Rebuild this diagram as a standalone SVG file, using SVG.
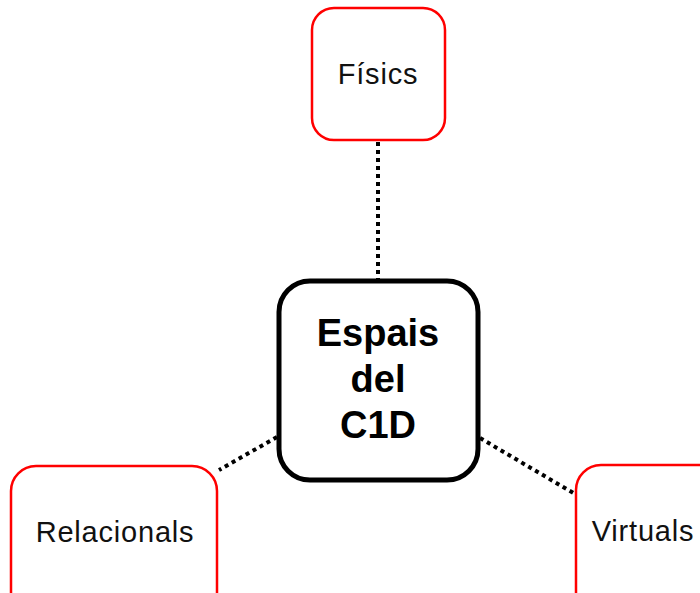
<svg xmlns="http://www.w3.org/2000/svg" width="700" height="593" viewBox="0 0 700 593">
<style>
.leaf{fill:#fff;stroke:#ff0000;stroke-width:2.5}
.core{fill:#fff;stroke:#000;stroke-width:5}
.conn{stroke:#000;stroke-width:4;stroke-dasharray:4 4;fill:none}
.lt{font-family:"Liberation Sans",Arial,sans-serif;font-size:29px;letter-spacing:0.8px;fill:#111;text-anchor:middle}
.ct{font-family:"Liberation Sans",Arial,sans-serif;font-size:38px;font-weight:bold;fill:#000;text-anchor:middle}
</style>
<rect width="700" height="593" fill="#fff"/>
<g id="connectors">
<line class="conn" x1="378" y1="142" x2="378" y2="279"/>
<line class="conn" x1="277" y1="437" x2="219" y2="470"/>
<line class="conn" x1="480" y1="438" x2="575" y2="494"/>
</g>
<g id="fisics">
<rect class="leaf" x="312" y="8" width="133" height="132" rx="22"/>
<text class="lt" x="378" y="84">Físics</text>
</g>
<g id="relacionals">
<rect class="leaf" x="11" y="466" width="206" height="160" rx="25"/>
<text class="lt" x="115" y="542">Relacionals</text>
</g>
<g id="virtuals">
<rect class="leaf" x="576" y="465" width="206" height="160" rx="25"/>
<text class="lt" x="643" y="541">Virtuals</text>
</g>
<g id="espais">
<rect class="core" x="279" y="281" width="199" height="199" rx="31"/>
<text class="ct" x="378" y="346">Espais</text>
<text class="ct" x="378" y="392">del</text>
<text class="ct" x="378" y="438">C1D</text>
</g>
</svg>
